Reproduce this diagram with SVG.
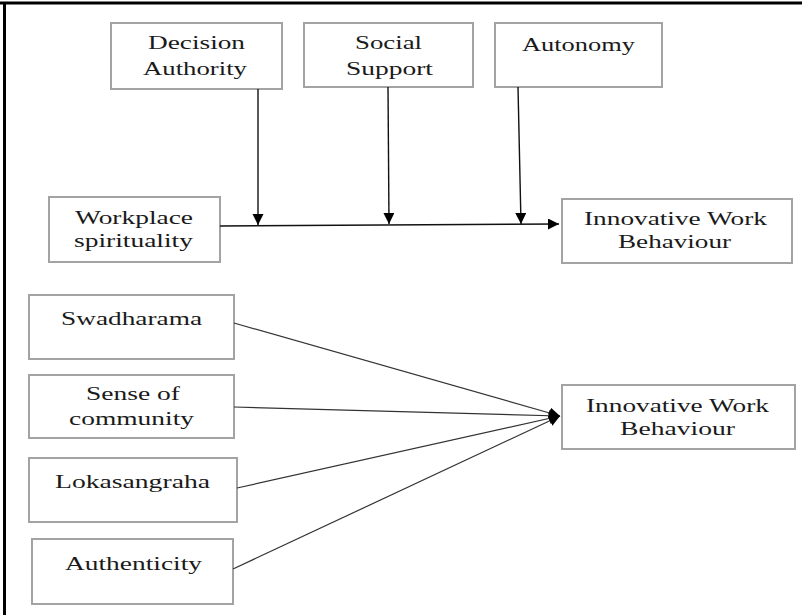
<svg xmlns="http://www.w3.org/2000/svg" width="802" height="615" viewBox="0 0 802 615">
<style>
.box{fill:#fff;stroke:#a3a3a3;stroke-width:2}
.t{font-family:"Liberation Serif","Times New Roman",serif;font-size:18.5px;fill:#1a1a1a}
.c{stroke:#111;stroke-width:1.4;fill:none}
.d{stroke:#333;stroke-width:1.2;fill:none}
.frame{stroke:#000;stroke-width:3;fill:none}
</style>
<defs>
<marker id="ah" markerUnits="userSpaceOnUse" markerWidth="12" markerHeight="12" refX="11" refY="5.5" orient="auto">
<path d="M0,0 L11,5.5 L0,11 z" fill="#000"/>
</marker>
</defs>
<rect width="802" height="615" fill="#fff"/>
<g id="frame">
<line class="frame" x1="0" y1="3" x2="802" y2="3"/>
<line class="frame" x1="4.5" y1="3" x2="4.5" y2="615"/>
</g>
<g id="decision-authority">
<rect class="box" x="111" y="23" width="171" height="66"/>
<text class="t" x="148" y="49" textLength="97" lengthAdjust="spacingAndGlyphs">Decision</text>
<text class="t" x="143" y="75" textLength="104" lengthAdjust="spacingAndGlyphs">Authority</text>
</g>
<g id="social-support">
<rect class="box" x="304" y="23" width="169" height="64"/>
<text class="t" x="355" y="49" textLength="67" lengthAdjust="spacingAndGlyphs">Social</text>
<text class="t" x="346" y="75" textLength="87" lengthAdjust="spacingAndGlyphs">Support</text>
</g>
<g id="autonomy">
<rect class="box" x="495" y="23" width="167" height="64"/>
<text class="t" x="522" y="51" textLength="113" lengthAdjust="spacingAndGlyphs">Autonomy</text>
</g>
<g id="workplace-spirituality">
<rect class="box" x="49" y="197" width="171" height="65"/>
<text class="t" x="75" y="224" textLength="118" lengthAdjust="spacingAndGlyphs">Workplace</text>
<text class="t" x="74" y="247" textLength="119" lengthAdjust="spacingAndGlyphs">spirituality</text>
</g>
<g id="iwb-1">
<rect class="box" x="562" y="199" width="230" height="64"/>
<text class="t" x="584" y="225" textLength="183" lengthAdjust="spacingAndGlyphs">Innovative Work</text>
<text class="t" x="618" y="248" textLength="113" lengthAdjust="spacingAndGlyphs">Behaviour</text>
</g>
<g id="swadharama">
<rect class="box" x="29" y="295" width="205" height="64"/>
<text class="t" x="61" y="325" textLength="141" lengthAdjust="spacingAndGlyphs">Swadharama</text>
</g>
<g id="sense-of-community">
<rect class="box" x="29" y="375" width="205" height="63"/>
<text class="t" x="86" y="400" textLength="94" lengthAdjust="spacingAndGlyphs">Sense of</text>
<text class="t" x="69" y="425" textLength="125" lengthAdjust="spacingAndGlyphs">community</text>
</g>
<g id="lokasangraha">
<rect class="box" x="29" y="458" width="208" height="64"/>
<text class="t" x="55" y="488" textLength="155" lengthAdjust="spacingAndGlyphs">Lokasangraha</text>
</g>
<g id="authenticity">
<rect class="box" x="32" y="539" width="201" height="65"/>
<text class="t" x="65" y="570" textLength="137" lengthAdjust="spacingAndGlyphs">Authenticity</text>
</g>
<g id="iwb-2">
<rect class="box" x="562" y="385" width="233" height="64"/>
<text class="t" x="586" y="412" textLength="183" lengthAdjust="spacingAndGlyphs">Innovative Work</text>
<text class="t" x="620" y="435" textLength="115" lengthAdjust="spacingAndGlyphs">Behaviour</text>
</g>
<g id="connectors">
<line class="c" x1="220" y1="226" x2="559" y2="224" marker-end="url(#ah)"/>
<line class="c" x1="258" y1="89" x2="258" y2="225" marker-end="url(#ah)"/>
<line class="c" x1="388" y1="87" x2="389" y2="224" marker-end="url(#ah)"/>
<line class="c" x1="518" y1="87" x2="521" y2="224" marker-end="url(#ah)"/>
<line class="d" x1="234" y1="323" x2="560" y2="416" marker-end="url(#ah)"/>
<line class="d" x1="234" y1="407" x2="560" y2="416" marker-end="url(#ah)"/>
<line class="d" x1="237" y1="488" x2="560" y2="416" marker-end="url(#ah)"/>
<line class="d" x1="233" y1="569" x2="560" y2="416" marker-end="url(#ah)"/>
</g>
</svg>
